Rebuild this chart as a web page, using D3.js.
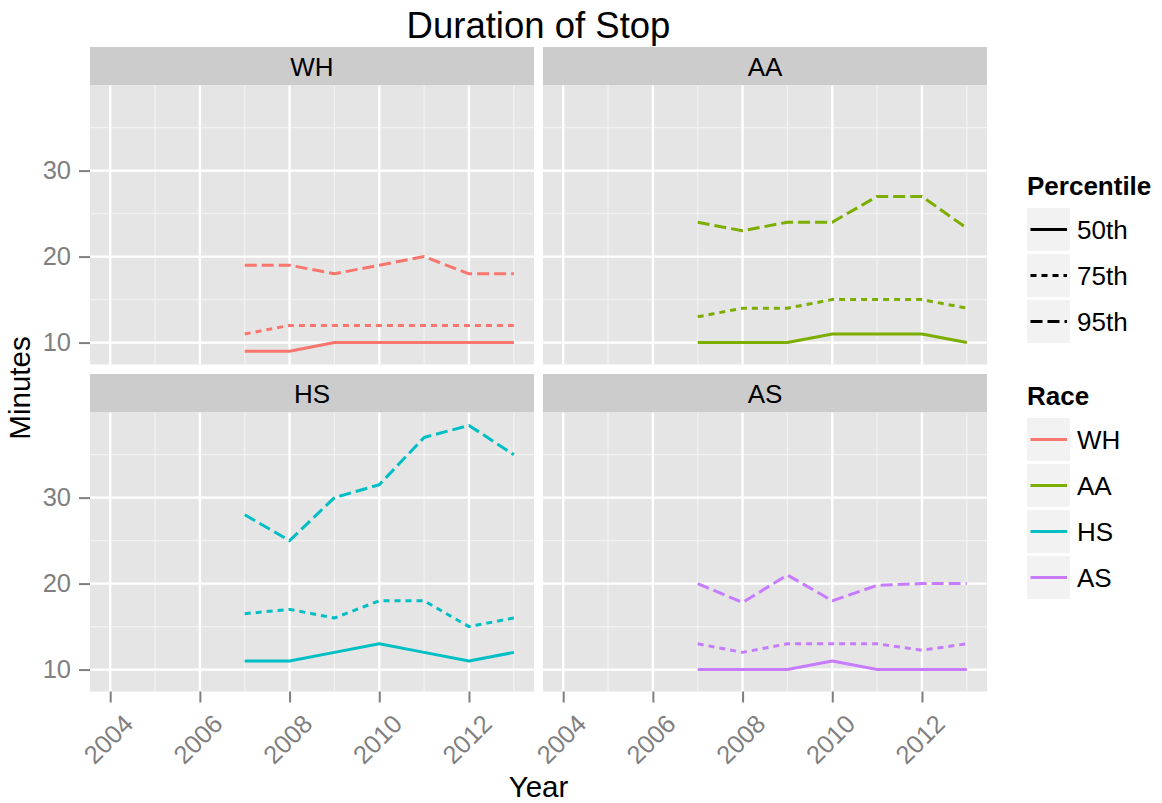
<!DOCTYPE html>
<html>
<head>
<meta charset="utf-8">
<script src="https://cdn.jsdelivr.net/npm/d3@7"></script>
<style>
  body { margin: 0; background: #fff; }
  svg { font-family: "Liberation Sans", Arial, Helvetica, sans-serif; }
</style>
</head>
<body>
<script>
const years = [2007, 2008, 2009, 2010, 2011, 2012, 2013]
const races = ['WH', 'AA', 'HS', 'AS']
const raceColors = ['#F8766D', '#7CAE00', '#00BFC4', '#C77CFF']
const percentiles = ['50th', '75th', '95th']

// minutes, one value per year
const wh50 = [9, 9, 10, 10, 10, 10, 10]
const wh75 = [11, 12, 12, 12, 12, 12, 12]
const wh95 = [19, 19, 18, 19, 20, 18, 18]
const aa50 = [10, 10, 10, 11, 11, 11, 10]
const aa75 = [13, 14, 14, 15, 15, 15, 14]
const aa95 = [24, 23, 24, 24, 27, 27, 23.3]
const hs50 = [11, 11, 12, 13, 12, 11, 12]
const hs75 = [16.5, 17, 16, 18, 18, 15, 16]
const hs95 = [28, 25, 30, 31.5, 37, 38.4, 35]
const as50 = [10, 10, 10, 11, 10, 10, 10]
const as75 = [13, 12, 13, 13, 13, 12.25, 13]
const as95 = [20, 17.8, 21, 18, 19.8, 20, 20]

const xTicks = [2004, 2006, 2008, 2010, 2012]
const xMinor = [2005, 2007, 2009, 2011, 2013]
const yTicks = [10, 20, 30]
const yMinor = [15, 25, 35]

const seriesByRace = {
  WH: [wh50, wh75, wh95],
  AA: [aa50, aa75, aa95],
  HS: [hs50, hs75, hs95],
  AS: [as50, as75, as95]
}

const w = 1162
const h = 803
const colX = [90, 543]
const panelW = 444
const stripTop = [47, 374]
const stripH = 38.5
const panelH = 279
const dashes = [null, '6,5', '12,5']
const lineW = 3

const svg = d3.select('body').append('svg')
  .attr('width', w)
  .attr('height', h)

const xScale = d3.scaleLinear().domain([2003.55, 2013.45]).range([0, panelW])
const yScale = d3.scaleLinear().domain([7.45, 39.9]).range([panelH, 0])
const color = d3.scaleOrdinal().domain(races).range(raceColors)

const line = d3.line()
  .x(d => xScale(d[0]))
  .y(d => yScale(d[1]))

races.forEach((race, i) => {
  const col = i % 2
  const row = Math.floor(i / 2)
  const px = colX[col]
  const sy = stripTop[row]
  const py = sy + stripH

  // strip
  svg.append('rect')
    .attr('x', px).attr('y', sy)
    .attr('width', panelW).attr('height', stripH)
    .attr('fill', '#cccccc')
  svg.append('text')
    .attr('x', px + panelW / 2)
    .attr('y', sy + stripH / 2 + 9.5)
    .attr('text-anchor', 'middle')
    .style('font-size', '26px')
    .text(race)

  const g = svg.append('g').attr('transform', 'translate(' + px + ',' + py + ')')

  g.append('rect')
    .attr('width', panelW).attr('height', panelH)
    .attr('fill', '#e5e5e5')

  // minor grid
  g.selectAll('.vminor').data(xMinor).enter().append('line')
    .attr('x1', d => xScale(d)).attr('x2', d => xScale(d))
    .attr('y1', 0).attr('y2', panelH)
    .attr('stroke', '#f2f2f2').attr('stroke-width', 1.2)
  g.selectAll('.hminor').data(yMinor).enter().append('line')
    .attr('y1', d => yScale(d)).attr('y2', d => yScale(d))
    .attr('x1', 0).attr('x2', panelW)
    .attr('stroke', '#f2f2f2').attr('stroke-width', 1.2)

  // major grid
  g.selectAll('.vmajor').data(xTicks).enter().append('line')
    .attr('x1', d => xScale(d)).attr('x2', d => xScale(d))
    .attr('y1', 0).attr('y2', panelH)
    .attr('stroke', '#ffffff').attr('stroke-width', 2.4)
  g.selectAll('.hmajor').data(yTicks).enter().append('line')
    .attr('y1', d => yScale(d)).attr('y2', d => yScale(d))
    .attr('x1', 0).attr('x2', panelW)
    .attr('stroke', '#ffffff').attr('stroke-width', 2.4)

  // the three percentile lines
  seriesByRace[race].forEach((vals, j) => {
    g.append('path')
      .datum(years.map((yr, k) => [yr, vals[k]]))
      .attr('d', line)
      .attr('fill', 'none')
      .attr('stroke', color(race))
      .attr('stroke-width', lineW)
      .attr('stroke-linejoin', 'round')
      .attr('stroke-dasharray', dashes[j])
  })

  // y axis on left column
  if (col === 0) {
    const yAxis = d3.axisLeft(yScale).tickValues(yTicks).tickSize(11).tickPadding(8)
    const ya = g.append('g').call(yAxis)
    ya.select('.domain').remove()
    ya.selectAll('line').attr('stroke', '#7f7f7f').attr('stroke-width', 2)
    ya.selectAll('text')
      .attr('fill', '#7f7f7f')
      .style('font-size', '25.5px')
      .attr('font-family', null)
  }

  // x axis on bottom row
  if (row === 1) {
    const xAxis = d3.axisBottom(xScale).tickValues(xTicks).tickFormat(d3.format('d')).tickSize(11)
    const xa = g.append('g')
      .attr('transform', 'translate(0,' + panelH + ')')
      .call(xAxis)
    xa.select('.domain').remove()
    xa.selectAll('line').attr('stroke', '#7f7f7f').attr('stroke-width', 2)
    xa.selectAll('text')
      .attr('fill', '#7f7f7f')
      .style('font-size', '25.5px')
      .attr('font-family', null)
      .attr('x', 0).attr('y', 0)
      .attr('dy', '0.72em')
      .attr('text-anchor', 'end')
      .attr('transform', 'translate(11,21) rotate(-45)')
  }
})

// titles
svg.append('text')
  .attr('x', 538.5)
  .attr('y', 37.5)
  .attr('text-anchor', 'middle')
  .style('font-size', '36.5px')
  .text('Duration of Stop')

svg.append('text')
  .attr('x', 538.5)
  .attr('y', 797)
  .attr('text-anchor', 'middle')
  .style('font-size', '29.5px')
  .text('Year')

svg.append('text')
  .attr('transform', 'translate(30,388) rotate(-90)')
  .attr('text-anchor', 'middle')
  .style('font-size', '29.5px')
  .text('Minutes')

// legends
const legX = 1027
const keySize = 43
const keyStep = 46

function legend(top, title, items, styleFn) {
  svg.append('text')
    .attr('x', legX)
    .attr('y', top)
    .style('font-size', '26px')
    .style('font-weight', 'bold')
    .text(title)
  const rows = svg.selectAll(null).data(items).enter().append('g')
    .attr('transform', (d, i) => 'translate(' + legX + ',' + (top + 13 + i * keyStep) + ')')
  rows.append('rect')
    .attr('width', keySize).attr('height', keySize)
    .attr('fill', '#f2f2f2')
  const keyLine = rows.append('line')
    .attr('x1', 3.5).attr('x2', 40)
    .attr('y1', keySize / 2).attr('y2', keySize / 2)
    .attr('stroke-width', lineW)
  styleFn(keyLine)
  rows.append('text')
    .attr('x', 50)
    .attr('y', keySize / 2 + 9.5)
    .style('font-size', '26px')
    .text(d => d)
}

legend(195, 'Percentile', percentiles, sel => sel
  .attr('stroke', '#000')
  .attr('stroke-dasharray', (d, i) => dashes[i]))

legend(405, 'Race', races, sel => sel
  .attr('stroke', d => color(d)))
</script>
</body>
</html>
